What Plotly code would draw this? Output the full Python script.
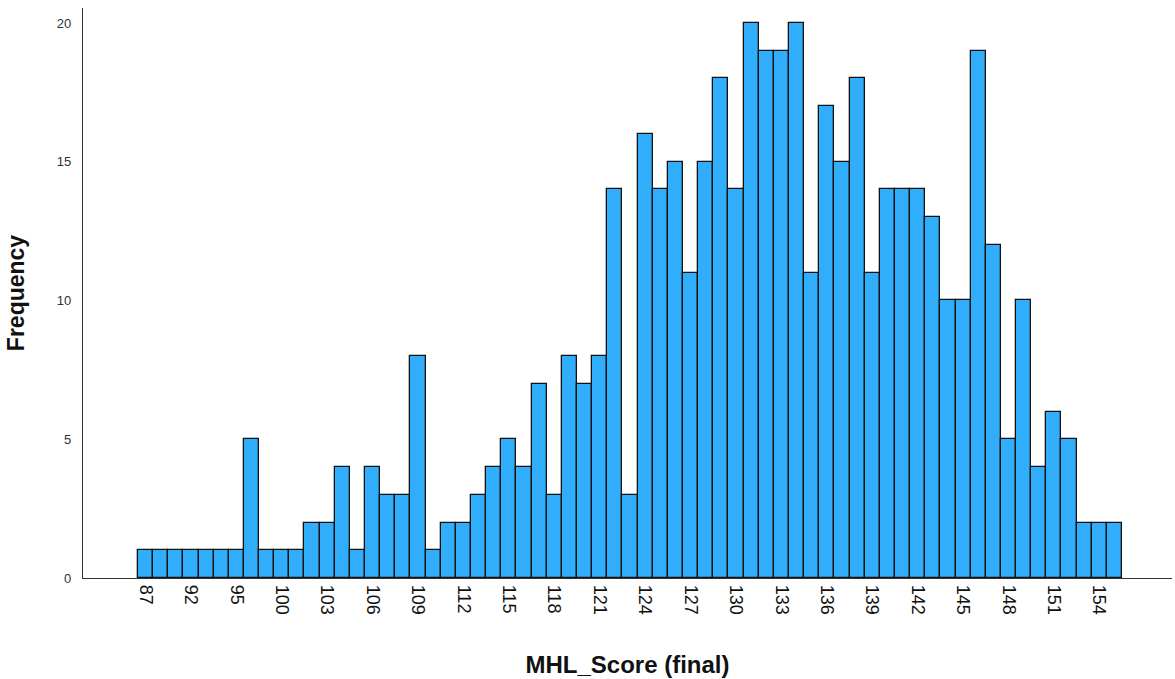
import plotly.graph_objects as go

scores = ["87", "89", "90", "92", "93", "94", "95", "97", "98",
          "100", "101", "102", "103", "104", "105", "106", "107", "108", "109",
          "110", "111", "112", "113", "114", "115", "116", "117", "118", "119",
          "120", "121", "122", "123", "124", "125", "126", "127", "128", "129",
          "130", "131", "132", "133", "134", "135", "136", "137", "138", "139",
          "140", "141", "142", "143", "144", "145", "146", "147", "148", "149",
          "150", "151", "152", "153", "154", "155"]
frequency = [1, 1, 1, 1, 1, 1, 1, 5, 1,
             1, 1, 2, 2, 4, 1, 4, 3, 3, 8,
             1, 2, 2, 3, 4, 5, 4, 7, 3, 8,
             7, 8, 14, 3, 16, 14, 15, 11, 15, 18,
             14, 20, 19, 19, 20, 11, 17, 15, 18, 11,
             14, 14, 14, 13, 10, 10, 19, 12, 5, 10,
             4, 6, 5, 2, 2, 2]
tick_labels = ["87", "92", "95", "100", "103", "106", "109", "112", "115", "118",
               "121", "124", "127", "130", "133", "136", "139", "142", "145",
               "148", "151", "154"]
y_ticks = [0, 5, 10, 15, 20]

FONT = "Liberation Sans, Arial, sans-serif"

fig = go.Figure(go.Bar(
    x=scores, y=frequency,
    marker=dict(color="#30aefc", line=dict(color="#111111", width=1.3)),
    hoverinfo="x+y",
))

fig.update_layout(
    width=1175, height=679,
    margin=dict(l=83, r=3, t=8, b=101, autoexpand=False),
    paper_bgcolor="white", plot_bgcolor="white",
    bargap=0,
    showlegend=False,
    font=dict(family=FONT, color="#222222"),
)

fig.update_xaxes(
    type="category",
    categoryorder="array", categoryarray=scores,
    range=[-4.13, 67.8],
    automargin=False,
    tickmode="array", tickvals=tick_labels, ticktext=tick_labels,
    tickangle=90,
    tickfont=dict(family=FONT, size=18, color="#111111"),
    ticks="outside", ticklen=2, tickcolor="rgba(0,0,0,0)",
    showline=True, linecolor="#333333", linewidth=1.2,
    showgrid=False, zeroline=False,
    title=dict(text="MHL_Score (final)", standoff=42,
               font=dict(family=FONT, size=24, weight="bold", color="#111111")),
)

fig.update_yaxes(
    range=[0, 20.54],
    automargin=False,
    tickmode="array", tickvals=y_ticks,
    tickfont=dict(family=FONT, size=13, color="#2a3340"),
    ticks="outside", ticklen=8, tickcolor="rgba(0,0,0,0)",
    showline=True, linecolor="#333333", linewidth=1.2,
    showgrid=False, zeroline=False,
    title=dict(text="Frequency", standoff=25,
               font=dict(family=FONT, size=23, weight="bold", color="#111111")),
)

fig.write_html(
    "out.html",
    config={"displayModeBar": False},
    post_script="document.body.style.margin='0';document.body.style.overflow='hidden';",
)
